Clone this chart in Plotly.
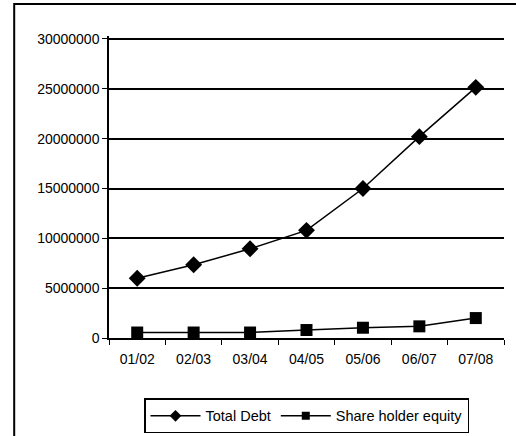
import plotly.graph_objects as go

# Financial years and balance-sheet figures
years = ["01/02", "02/03", "03/04", "04/05", "05/06", "06/07", "07/08"]
total_debt = [6000000, 7350000, 8950000, 10800000, 15000000, 20200000, 25150000]
shareholder_equity = [550000, 550000, 550000, 800000, 1030000, 1170000, 2000000]
y_ticks = [0, 5000000, 10000000, 15000000, 20000000, 25000000, 30000000]

series = [
    ("Total Debt", total_debt, "diamond", 13, 9),
    ("Share holder equity", shareholder_equity, "square", 12, 8),
]

fig = go.Figure()
for name, values, symbol, size, legend_size in series:
    fig.add_trace(go.Scatter(
        x=years, y=values, name=name, mode="lines+markers", showlegend=False,
        line=dict(color="black", width=1.5),
        marker=dict(symbol=symbol, size=size, color="black"),
    ))
    # legend entry with a smaller key symbol
    fig.add_trace(go.Scatter(
        x=[None], y=[None], name=name, mode="lines+markers",
        line=dict(color="black", width=1.5),
        marker=dict(symbol=symbol, size=legend_size, color="black"),
    ))

# Outer chart frame (runs off the right and bottom edges)
fig.add_shape(type="rect", xref="paper", yref="paper",
              x0=-0.24, x1=1.2, y0=-0.6, y1=1.106,
              line=dict(color="black", width=2), layer="below")

fig.update_layout(
    width=516, height=436,
    margin=dict(l=109, r=12, t=36, b=98, autoexpand=False),
    paper_bgcolor="white", plot_bgcolor="white",
    font=dict(family="Liberation Sans, Arial", size=14, color="black"),
    showlegend=True,
    legend=dict(orientation="h", x=0.5, xanchor="center", y=-0.2, yanchor="top",
                bordercolor="black", borderwidth=1.5, itemwidth=50,
                font=dict(size=14.5), tracegroupgap=0),
    xaxis=dict(type="category", tickson="boundaries", ticks="outside", ticklen=5,
               tickcolor="black", showgrid=False, showline=True, linecolor="black",
               linewidth=1.5, zeroline=False, range=[-0.5, 6.5],
               ticklabelstandoff=7),
    yaxis=dict(range=[0, 30300000], tickvals=y_ticks,
               ticktext=[str(v) for v in y_ticks], ticks="outside", ticklen=5,
               tickcolor="black", showgrid=True, gridcolor="black", gridwidth=1.5,
               showline=True, linecolor="black", linewidth=1.5, zeroline=False),
)

fig.write_html("out.html")
